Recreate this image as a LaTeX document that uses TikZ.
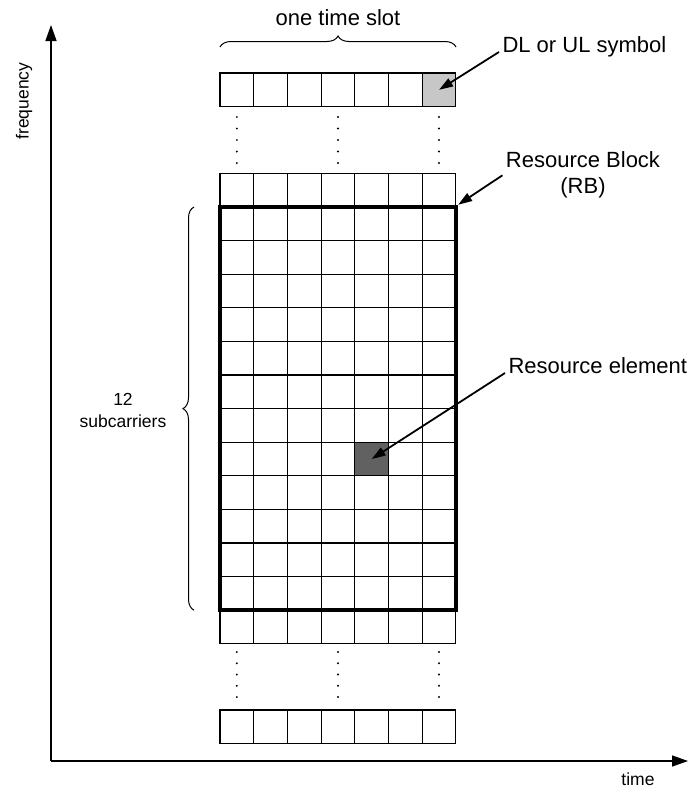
\documentclass[tikz,border=0pt]{standalone}
\usepackage{fontspec}
\setmainfont{Liberation Sans}
\usetikzlibrary{arrows.meta,positioning,decorations.pathreplacing}

\begin{document}
\begin{tikzpicture}[x=1pt, y=-1pt, >={Triangle[length=14pt,width=9pt]},
  font=\fontsize{22}{26}\selectfont,
  cell/.style={draw, line width=1.1pt},
  symbolcell/.style={cell, minimum width=33.7pt, minimum height=33.6pt, inner sep=0pt},
  rbframe/.style={draw, line width=4.5pt, minimum width=235.9pt, minimum height=403.2pt, inner sep=0pt},
  callout/.style={->, line width=1.8pt},
  axis/.style={-{Triangle[length=16pt,width=11pt]}, line width=1.4pt},
  axislabel/.style={font=\fontsize{17.5}{22}\selectfont},
  curly/.style={decorate, decoration={brace, amplitude=11pt}, line width=1pt}]
  \useasboundingbox (0,0) rectangle (691,790);

  % single rows of one time slot
  \foreach \y in {73,173.4,610.2,710}
    \foreach \i in {0,...,6}
      \draw[cell] (220+\i*33.7,\y) rectangle ++(33.7,33.6);

  % resource block, 12 x 7 elements
  \foreach \j in {0,...,11}
    \foreach \i in {0,...,6}
      \draw[cell] (220+\i*33.7,207+\j*33.6) rectangle ++(33.7,33.6);

  % marked elements
  \node[symbolcell, fill=black!22] (dl) at (439.05,89.8) {};
  \node[symbolcell, fill=black!62] (re) at (371.65,459) {};
  \node[rbframe] (rb) at (337.95,408.6) {};

  % dotted continuation
  \foreach \x in {236.85,337.95,439.05}
    \foreach \y in {117,128.5,140,151.5,163,652,663.25,674.5,685.75,697}
      \fill (\x,\y) circle (1.1pt);

  % braces
  \draw[curly] (220,47) -- (456,47);
  \draw[curly] (194,610.2) -- (194,207);

  % labels
  \node[anchor=base] (slot) at (338,25) {one time slot};
  \node[axislabel, align=center] (sub) at (123,410) {12\\subcarriers};
  \node[anchor=base west] (dl-label) at (499,52) {DL or UL symbol};
  \node[align=center] (rb-label) at (583,175.3) {Resource Block\\(RB)};
  \node[anchor=base west] (re-label) at (505,373) {Resource element};

  \draw[callout] (dl-label.base west) -- (dl.center);
  \draw[callout] (rb-label.west) -- (rb.north east);
  \draw[callout] (re-label.base west) -- (re.center);

  % axes
  \coordinate (origin) at (51,761);
  \coordinate (fmax) at (51,25);
  \coordinate (tmax) at (688,761);
  \draw[axis] (origin) -- (fmax);
  \draw[axis] (origin) -- (tmax);
  \node[axislabel, rotate=90] (freq) at (24,101) {frequency};
  \node[axislabel, anchor=base] (time) at (638,785) {time};
\end{tikzpicture}
\end{document}
